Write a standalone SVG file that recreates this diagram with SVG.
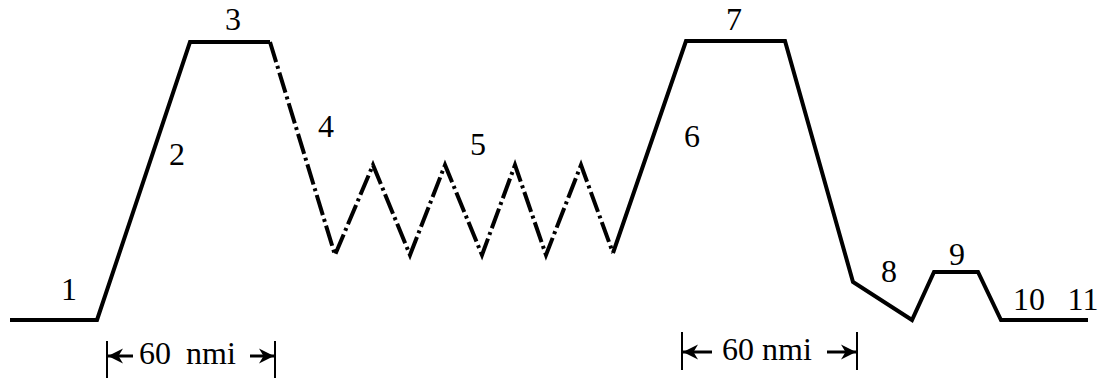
<svg xmlns="http://www.w3.org/2000/svg" width="1099" height="381" viewBox="0 0 1099 381">
<style>
.l{fill:none;stroke:#000;stroke-width:4;stroke-linejoin:miter}
.dd{stroke-dasharray:21 4 3 4}
.bar{stroke:#000;stroke-width:2}
.ar{stroke:#000;stroke-width:3;fill:none}
.t{font-family:'Liberation Serif',serif;font-size:32px;fill:#000}
</style>
<defs>
<marker id="ah" markerWidth="17" markerHeight="16" refX="15" refY="8" orient="auto" markerUnits="userSpaceOnUse">
<path d="M0,0.5 L15,8 L0,15.5 L4.5,8 Z" fill="#000"/>
</marker>
</defs>
<g id="connectors">
<polyline class="l" points="10,320 97,320 190,42 270,42"/>
<polyline class="l dd" points="270,42 335,255 373,165 410,255 445,165 482,255 515,165 546,255 581,165 613,253"/>
<polyline class="l" points="613,253 686,41 785,41 853,282 912,320 934,272 978,272 1001,320 1088,320"/>
</g>
<g id="labels" class="t" text-anchor="middle">
<text x="69" y="300">1</text>
<text x="177" y="165">2</text>
<text x="233" y="30">3</text>
<text x="326" y="137">4</text>
<text x="478" y="155">5</text>
<text x="692" y="147">6</text>
<text x="734" y="30">7</text>
<text x="889" y="282">8</text>
<text x="957" y="265">9</text>
<text x="1029" y="310">10</text>
<text x="1083" y="310">11</text>
</g>
<g id="dim-left">
<line class="bar" x1="107" y1="341" x2="107" y2="378"/>
<line class="ar" x1="133" y1="356" x2="108" y2="356" marker-end="url(#ah)"/>
<text class="t" x="139" y="364" word-spacing="7">60 nmi</text>
<line class="ar" x1="250" y1="356" x2="274" y2="356" marker-end="url(#ah)"/>
<line class="bar" x1="275" y1="341" x2="275" y2="378"/>
</g>
<g id="dim-right">
<line class="bar" x1="682" y1="332" x2="682" y2="370"/>
<line class="ar" x1="712" y1="352" x2="683" y2="352" marker-end="url(#ah)"/>
<text class="t" x="722" y="360">60 nmi</text>
<line class="ar" x1="827" y1="352" x2="856" y2="352" marker-end="url(#ah)"/>
<line class="bar" x1="857" y1="332" x2="857" y2="370"/>
</g>
</svg>
